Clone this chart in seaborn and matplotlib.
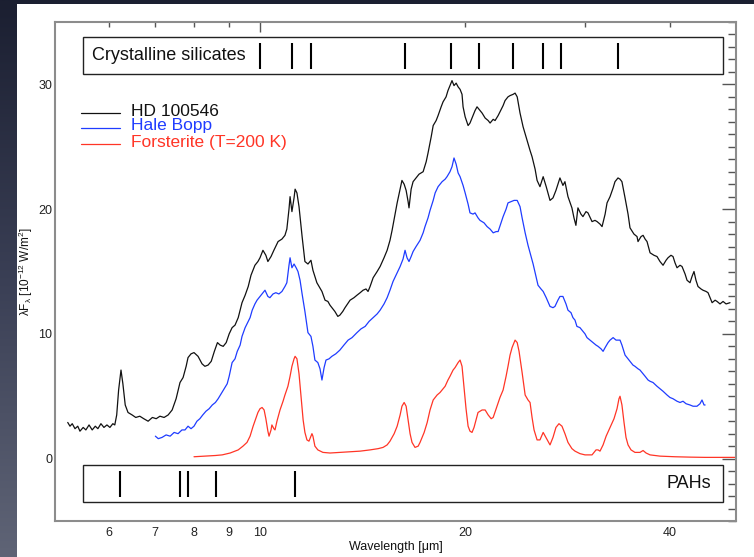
import numpy as np
import pandas as pd
import matplotlib
matplotlib.use("Agg")
import matplotlib.pyplot as plt
from matplotlib.patches import Rectangle
from matplotlib.colors import LinearSegmentedColormap
from matplotlib.ticker import FixedLocator, FixedFormatter, MultipleLocator
import seaborn as sns

# ---------------------------------------------------------------- spectra
hd_wave = [5.22, 5.26, 5.30, 5.35, 5.40, 5.44, 5.50, 5.55, 5.61, 5.67, 5.73, 5.78, 5.84, 5.90,
           5.96, 6.02, 6.08, 6.12, 6.16, 6.20, 6.25, 6.29, 6.34, 6.40, 6.49, 6.57, 6.66, 6.75,
           6.85, 6.95, 7.04, 7.13, 7.23, 7.33, 7.43, 7.53, 7.63, 7.71, 7.79, 7.84, 7.92, 8.00,
           8.11, 8.22, 8.30, 8.39, 8.48, 8.57, 8.66, 8.74, 8.83, 8.92, 9.01, 9.10, 9.19, 9.29,
           9.41, 9.51, 9.61, 9.70, 9.83, 9.93, 10.00, 10.10, 10.20, 10.27, 10.38, 10.48, 10.63,
           10.77, 10.88, 10.95, 11.03, 11.07, 11.14, 11.22, 11.26, 11.33, 11.41, 11.53, 11.64,
           11.76, 11.88, 11.96, 12.12, 12.33, 12.46, 12.58, 12.67, 12.88, 13.01, 13.10, 13.23,
           13.33, 13.56, 13.74, 13.88, 14.03, 14.17, 14.31, 14.41, 14.51, 14.66, 14.86, 15.01,
           15.21, 15.37, 15.52, 15.63, 15.79, 15.90, 16.06, 16.16, 16.28, 16.39, 16.50, 16.55,
           16.67, 16.78, 16.95, 17.12, 17.36, 17.54, 17.65, 17.84, 17.96, 18.14, 18.26, 18.45,
           18.57, 18.76, 18.88, 19.01, 19.14, 19.27, 19.41, 19.54, 19.67, 19.80, 19.87, 20.01,
           20.21, 20.34, 20.48, 20.69, 20.83, 21.04, 21.19, 21.41, 21.63, 21.77, 22.00, 22.14,
           22.37, 22.51, 22.75, 22.90, 23.13, 23.29, 23.53, 23.69, 23.86, 23.93, 24.09, 24.34,
           24.67, 24.92, 25.09, 25.35, 25.52, 25.77, 26.05, 26.32, 26.66, 26.93, 27.20, 27.57,
           27.85, 28.04, 28.33, 28.71, 28.91, 29.10, 29.30, 29.60, 29.80, 30.11, 30.31, 30.73,
           31.04, 31.26, 31.57, 31.79, 32.12, 32.33, 32.66, 33.00, 33.21, 33.55, 33.78, 34.00,
           34.36, 34.71, 34.94, 35.41, 35.78, 35.90, 36.27, 36.52, 36.77, 37.01, 37.39, 37.89,
           38.28, 38.67, 39.07, 39.47, 39.73, 40.13, 40.41, 40.68, 40.96, 41.38, 41.66, 42.09,
           42.37, 42.80, 43.09, 43.38, 43.67, 43.97, 44.42, 44.72, 45.19, 45.49, 45.80, 46.12,
           46.59, 46.90, 47.37, 47.86, 48.35, 49.00]
hd_flux = [2.9, 2.6, 2.8, 2.4, 2.6, 2.2, 2.5, 2.3, 2.7, 2.3, 2.6, 2.4, 2.8, 2.5,
           2.7, 2.5, 2.8, 2.7, 3.5, 5.5, 7.1, 6.0, 4.3, 3.7, 3.5, 3.3, 3.4, 3.2,
           3.0, 3.3, 3.2, 3.4, 3.3, 3.5, 3.9, 4.8, 6.1, 6.5, 7.4, 8.1, 8.4, 8.5,
           8.2, 7.6, 7.4, 7.5, 7.8, 8.6, 9.3, 9.1, 9.0, 9.3, 10.0, 10.5, 10.7, 11.3,
           12.5, 13.1, 13.8, 14.7, 15.5, 15.8, 16.1, 16.7, 16.3, 15.8, 16.2, 16.7, 17.4,
           17.6, 17.9, 18.4, 20.0, 21.0, 19.8, 20.9, 21.6, 21.3, 20.2, 17.8, 15.8,
           15.6, 15.9, 15.1, 14.1, 13.4, 12.7, 12.6, 12.3, 11.8, 11.4, 11.5, 11.8,
           12.1, 12.7, 12.9, 13.1, 13.3, 13.5, 13.6, 13.4, 13.8, 14.5, 15.0, 15.4,
           16.1, 16.7, 17.5, 18.3, 19.6, 20.5, 21.6, 22.3, 22.0, 21.5, 20.6, 20.1,
           21.6, 22.2, 22.5, 22.8, 23.0, 23.8, 24.5, 25.8, 26.7, 27.1, 27.5, 28.2,
           28.6, 29.0, 29.5, 29.9, 30.3, 29.9, 30.1, 29.8, 29.6, 29.2, 28.2, 27.4,
           26.7, 26.9, 27.3, 27.9, 28.2, 27.9, 27.7, 27.3, 27.1, 26.9, 27.2, 27.1,
           27.5, 27.8, 28.3, 28.7, 29.0, 29.1, 29.2, 29.3, 29.0, 28.6, 27.7, 26.6,
           25.5, 24.7, 24.2, 23.2, 22.3, 21.8, 22.6, 21.8, 20.7, 20.9, 21.5, 22.5,
           21.9, 22.2, 21.0, 20.1, 19.3, 18.7, 20.1, 19.6, 19.4, 19.8, 19.7, 19.0,
           19.1, 19.0, 18.8, 18.6, 19.6, 20.5, 21.0, 21.7, 22.2, 22.5, 22.4, 22.2,
           20.9, 19.6, 18.5, 18.0, 17.8, 17.4, 17.8, 17.9, 17.6, 17.4, 16.5, 16.3,
           16.2, 15.8, 15.5, 15.9, 16.1, 16.3, 16.2, 15.7, 15.3, 15.5, 15.4, 14.8,
           14.3, 14.1, 14.6, 15.0, 14.3, 13.8, 13.6, 13.5, 13.4, 13.3, 12.9, 12.5,
           12.7, 12.6, 12.4, 12.6, 12.4, 12.5]

hb_wave = [7.02, 7.09, 7.18, 7.28, 7.38, 7.48, 7.58, 7.68, 7.76, 7.84, 7.92, 8.00, 8.08, 8.16,
           8.24, 8.33, 8.42, 8.51, 8.60, 8.68, 8.77, 8.86, 8.95, 9.01, 9.10, 9.19, 9.26, 9.35,
           9.41, 9.51, 9.61, 9.67, 9.74, 9.83, 9.90, 10.00, 10.10, 10.17, 10.27, 10.34, 10.45,
           10.55, 10.66, 10.77, 10.88, 10.95, 11.03, 11.07, 11.14, 11.22, 11.30, 11.37, 11.45,
           11.53, 11.64, 11.76, 11.88, 11.96, 12.04, 12.16, 12.25, 12.33, 12.42, 12.50, 12.63,
           12.75, 12.92, 13.10, 13.28, 13.47, 13.65, 13.88, 14.07, 14.27, 14.46, 14.66, 14.86,
           15.01, 15.21, 15.37, 15.52, 15.68, 15.90, 16.06, 16.22, 16.33, 16.44, 16.55, 16.67,
           16.78, 16.95, 17.18, 17.36, 17.47, 17.65, 17.77, 17.96, 18.08, 18.26, 18.51, 18.70,
           18.82, 19.01, 19.14, 19.27, 19.41, 19.54, 19.67, 19.87, 20.01, 20.21, 20.34, 20.55,
           20.69, 20.90, 21.04, 21.33, 21.55, 21.77, 22.00, 22.22, 22.37, 22.59, 22.75, 22.98,
           23.13, 23.37, 23.61, 23.86, 24.09, 24.26, 24.51, 24.75, 24.92, 25.18, 25.35, 25.60,
           25.86, 26.05, 26.32, 26.66, 26.93, 27.11, 27.38, 27.57, 27.85, 28.14, 28.33, 28.62,
           28.81, 29.01, 29.20, 29.50, 29.70, 30.01, 30.21, 30.52, 30.83, 31.15, 31.36, 31.68,
           31.90, 32.12, 32.44, 32.66, 33.00, 33.33, 33.78, 34.00, 34.36, 34.71, 34.94, 35.29,
           35.53, 35.90, 36.14, 36.52, 36.77, 37.14, 37.39, 37.77, 38.28, 38.67, 39.07, 39.60,
           40.00, 40.41, 40.96, 41.38, 41.80, 42.23, 42.80, 43.24, 43.82, 44.27, 44.57, 44.88,
           45.04]
hb_flux = [1.8, 1.6, 1.7, 1.9, 1.8, 2.1, 2.0, 2.3, 2.3, 2.6, 2.4, 2.6, 3.0, 3.2,
           3.5, 3.8, 4.0, 4.3, 4.5, 4.8, 5.2, 5.6, 6.0, 6.6, 7.7, 8.0, 8.6, 9.1,
           9.8, 10.5, 11.0, 11.3, 11.9, 12.4, 12.7, 13.0, 13.3, 13.5, 13.0, 12.9, 13.2,
           13.3, 13.2, 13.4, 13.8, 14.1, 15.5, 16.1, 15.3, 15.6, 15.3, 15.0, 14.3,
           13.2, 11.8, 10.1, 9.8, 9.0, 7.9, 7.7, 7.2, 6.3, 7.3, 7.9, 8.0,
           8.2, 8.4, 8.7, 9.1, 9.5, 9.7, 10.1, 10.4, 10.6, 11.0, 11.3, 11.6,
           11.9, 12.4, 12.9, 13.5, 14.2, 14.9, 15.4, 16.0, 16.7, 16.1, 15.8, 16.2,
           16.6, 17.0, 17.5, 18.1, 18.6, 19.3, 19.9, 20.7, 21.3, 21.8, 22.2, 22.4,
           22.6, 23.0, 23.4, 24.1, 23.6, 22.9, 22.6, 21.9, 21.3, 20.4, 19.7, 19.6,
           19.7, 19.3, 19.1, 18.9, 18.6, 18.4, 18.1, 18.2, 18.2, 18.9, 19.4, 20.0,
           20.5, 20.6, 20.7, 20.7, 20.2, 19.3, 18.1, 17.1, 16.5, 15.6, 14.9, 13.9,
           13.6, 13.4, 12.9, 12.2, 12.1, 12.2, 12.7, 13.0, 13.0, 12.4, 11.9, 11.7,
           11.3, 11.1, 10.6, 10.5, 10.3, 10.0, 9.7, 9.5, 9.3, 9.1, 9.0, 8.8,
           8.6, 8.9, 9.3, 9.5, 9.7, 9.5, 9.5, 9.1, 8.3, 8.0, 7.8, 7.5,
           7.4, 7.2, 7.1, 6.8, 6.6, 6.3, 6.2, 6.1, 5.8, 5.6, 5.4, 5.1,
           4.9, 4.8, 4.6, 4.5, 4.6, 4.4, 4.3, 4.2, 4.2, 4.4, 4.7, 4.3,
           4.3]

fo_wave = [8.00, 8.30, 8.60, 8.80, 9.04, 9.29, 9.44, 9.57, 9.67, 9.77, 9.87, 9.93, 10.00,
           10.07, 10.14, 10.20, 10.27, 10.31, 10.38, 10.41, 10.48, 10.52, 10.59, 10.70, 10.81,
           10.88, 10.99, 11.07, 11.14, 11.22, 11.26, 11.33, 11.41, 11.49, 11.57, 11.64, 11.72,
           11.80, 11.84, 11.92, 11.96, 12.04, 12.16, 12.37, 12.67, 13.10, 13.56, 14.03, 14.51,
           14.91, 15.16, 15.37, 15.52, 15.74, 15.90, 16.06, 16.16, 16.28, 16.39, 16.50, 16.61,
           16.72, 16.89, 17.07, 17.18, 17.42, 17.60, 17.77, 17.96, 18.20, 18.38, 18.57, 18.70,
           18.88, 19.01, 19.21, 19.34, 19.54, 19.67, 19.80, 19.94, 20.07, 20.21, 20.34, 20.48,
           20.62, 20.76, 20.90, 21.19, 21.41, 21.63, 21.85, 22.00, 22.29, 22.51, 22.75, 22.98,
           23.13, 23.29, 23.45, 23.69, 23.86, 24.01, 24.26, 24.51, 24.75, 24.92, 25.09, 25.26,
           25.52, 25.77, 26.05, 26.23, 26.41, 26.66, 26.93, 27.20, 27.48, 27.76, 28.04, 28.33,
           28.71, 29.01, 29.50, 30.01, 30.73, 31.15, 31.36, 31.57, 31.90, 32.23, 32.66, 33.10,
           33.44, 33.66, 33.78, 34.00, 34.24, 34.47, 34.71, 35.06, 35.53, 36.14, 36.52, 36.89,
           37.39, 38.67, 40.68, 42.80, 45.04, 47.37, 49.90]
fo_flux = [0.15, 0.2, 0.25, 0.3, 0.45, 0.7, 1.0, 1.3, 1.8, 2.6, 3.3, 3.7, 4.0,
           4.1, 3.9, 3.2, 2.2, 1.8, 2.3, 2.7, 2.4, 2.3, 3.0, 3.9, 4.6,
           5.1, 5.8, 6.6, 7.4, 8.0, 8.2, 8.0, 6.8, 4.9, 3.1, 2.1, 1.5,
           1.4, 1.6, 2.0, 1.8, 1.0, 0.7, 0.5, 0.45, 0.5, 0.55, 0.6, 0.7,
           0.8, 0.9, 1.1, 1.4, 2.0, 2.6, 3.5, 4.2, 4.5, 4.2, 3.1, 2.0,
           1.3, 0.9, 1.0, 1.3, 2.1, 2.9, 3.9, 4.7, 5.1, 5.3, 5.6, 5.8,
           6.3, 6.6, 7.1, 7.3, 7.7, 7.9, 7.4, 5.6, 4.0, 2.6, 2.2, 2.1,
           2.5, 3.1, 3.7, 3.9, 3.9, 3.5, 3.2, 3.3, 4.2, 4.9, 5.5, 6.6,
           7.4, 8.3, 8.9, 9.5, 9.3, 8.6, 6.9, 5.1, 4.7, 4.5, 3.3, 2.3,
           1.5, 1.5, 2.1, 1.8, 1.5, 1.1, 1.7, 2.5, 2.8, 2.6, 2.0, 1.3,
           0.8, 0.6, 0.4, 0.3, 0.3, 0.7, 0.7, 0.6, 1.1, 1.8, 2.5, 3.2,
           4.0, 4.8, 5.0, 4.3, 2.9, 1.7, 1.1, 0.7, 0.5, 0.5, 0.65, 0.45,
           0.3, 0.2, 0.15, 0.12, 0.1, 0.1, 0.1]

series_names = ["HD 100546", "Hale Bopp", "Forsterite (T=200 K)"]
series_colors = ["#111111", "#1f3cff", "#ff3526"]

# band positions (micron)
silicate_bands = [10.0, 11.15, 11.9, 16.3, 19.1, 21.0, 23.5, 26.05, 27.65, 33.55]
pah_bands = [6.23, 7.63, 7.84, 8.62, 11.25]

x_major = [10]
x_major_labels = ["10"]
x_minor = [6, 7, 8, 9, 20, 30, 40]
x_minor_labels = ["6", "7", "8", "9", "20", "", "40"]

# ---------------------------------------------------------------- style
sns.set_theme(style="white")
plt.rcParams["font.family"] = ["Liberation Sans", "DejaVu Sans"]
plt.rcParams["mathtext.fontset"] = "custom"
plt.rcParams["mathtext.rm"] = "Liberation Sans"
plt.rcParams["mathtext.it"] = "Liberation Sans:italic"
plt.rcParams["mathtext.default"] = "regular"

fig = plt.figure(figsize=(7.54, 5.57), dpi=100)

# slide backdrop: dark gradient with a white panel
bg = fig.add_axes([0, 0, 1, 1], zorder=-10)
grad = np.linspace(0, 1, 256).reshape(-1, 1)
slide = LinearSegmentedColormap.from_list("slide", ["#1b1f31", "#3a3f55", "#5f6476"])
bg.imshow(grad, aspect="auto", cmap=slide, extent=[0, 1, 0, 1], origin="upper")
bg.add_patch(Rectangle((17 / 754, 0), 1, (557 - 4) / 557, facecolor="white",
                       edgecolor="none", transform=bg.transAxes))
bg.set_xlim(0, 1)
bg.set_ylim(0, 1)
bg.axis("off")

ax = fig.add_axes([55 / 754, 1 - 521 / 557, 681 / 754, 499 / 557])
ax.set_facecolor("none")

frames = [
    pd.DataFrame({"wave": hd_wave, "flux": hd_flux, "source": series_names[0]}),
    pd.DataFrame({"wave": hb_wave, "flux": hb_flux, "source": series_names[1]}),
    pd.DataFrame({"wave": fo_wave, "flux": fo_flux, "source": series_names[2]}),
]
for df, col in zip(frames, series_colors):
    sns.lineplot(data=df, x="wave", y="flux", ax=ax, color=col, linewidth=0.9,
                 estimator=None, sort=False, legend=False)

ax.set_xscale("log")
ax.set_xlim(5, 50)
ax.set_ylim(-5, 35)

ax.xaxis.set_major_locator(FixedLocator(x_major))
ax.xaxis.set_major_formatter(FixedFormatter(x_major_labels))
ax.xaxis.set_minor_locator(FixedLocator(x_minor))
ax.xaxis.set_minor_formatter(FixedFormatter(x_minor_labels))
ax.yaxis.set_major_locator(MultipleLocator(10))
ax.yaxis.set_minor_locator(MultipleLocator(1))

ax.tick_params(which="both", direction="in", top=True, right=True, colors="#555555",
               labelcolor="#222222", labelsize=9, width=1.0)
ax.tick_params(axis="x", which="major", length=7.5, pad=4)
ax.tick_params(axis="x", which="minor", length=3.8, pad=4)
ax.tick_params(axis="y", which="major", length=10, pad=2)
ax.tick_params(axis="y", which="minor", length=5.5, pad=2)
for sp in ax.spines.values():
    sp.set_color("#8c8c8c")
    sp.set_linewidth(1.5)

ax.set_xlabel("Wavelength [μm]", fontsize=9, color="#111111", labelpad=2)
ax.set_ylabel(r"λF$_{λ}$ [10$^{-12}$ W/m$^{2}$]", fontsize=8.5, color="#111111", labelpad=2)

# band marker boxes
box_left, box_right = 5.5, 47.9
ax.add_patch(Rectangle((box_left, 30.8), box_right - box_left, 33.76 - 30.8,
                       facecolor="white", edgecolor="#222222", linewidth=1.0, zorder=3))
ax.add_patch(Rectangle((box_left, -3.44), box_right - box_left, 3.44 - 0.48,
                       facecolor="white", edgecolor="#222222", linewidth=1.0, zorder=3))
ax.vlines(silicate_bands, 31.2, 33.3, color="black", linewidth=1.5, zorder=4)
ax.vlines(pah_bands, -3.04, -0.96, color="black", linewidth=1.5, zorder=4)
ax.text(5.67, 32.28, "Crystalline silicates", fontsize=13, va="center", ha="left",
        color="#111111", zorder=5)
ax.text(45.9, -1.96, "PAHs", fontsize=13, va="center", ha="right", color="#111111", zorder=5)

# legend
leg_y = [0.8176, 0.7876, 0.7555]
for name, col, yy in zip(series_names, series_colors, leg_y):
    ax.plot([0.038, 0.0955], [yy, yy], color=col, linewidth=0.9, transform=ax.transAxes)
    ax.text(0.1116, yy + 0.004, name, color=col, fontsize=12.5, va="center", ha="left",
            transform=ax.transAxes)

fig.savefig("out.png", dpi=100)
